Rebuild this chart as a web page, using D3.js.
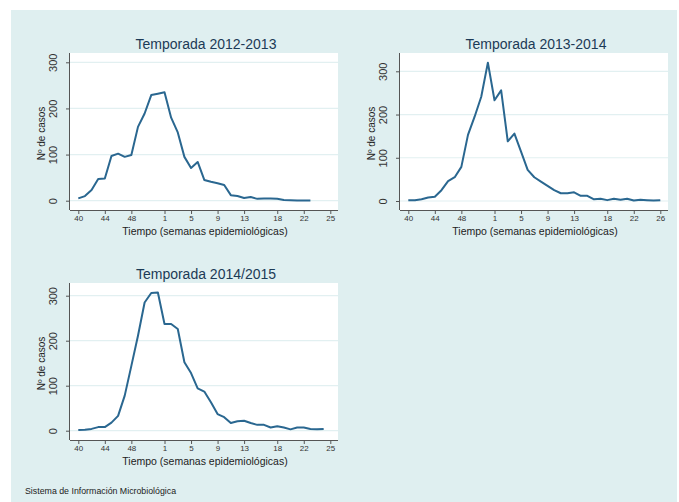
<!doctype html>
<html>
<head>
<meta charset="utf-8">
<script src="https://d3js.org/d3.v7.min.js"></script>
<style>
  body { margin: 0; background: #fff; }
  text { font-family: "Liberation Sans", Arial, sans-serif; }
</style>
</head>
<body>
<script>
// weekly cases, index 0 = week 40
var cases2012 = [5,10,23,47,48,97,102,95,99,160,189,229,232,235,180,148,95,71,84,45,41,38,34,12,10,6,8,4,5,5,4,1.5,1,0.5,0.5,0.5];
var cases2013 = [1.5,2,4,8,10,25,46,55,79,153,195,241,320,233,256,138,156,114,72,55,45,35,25,18,18,20,12,12,4,5,2,5,3,5,1,3,2,1,2];
var cases2014 = [1.5,2,4,8,8,18,33,78,144,211,285,306,307,237,237,226,152,128,94,87,63,37,30,17,21,22,17,13,13,7,10,7,3,7,7,4,3,4];

var tickPos = [0,4,8,13,17,21,25,30,34,38];
var tickLabelsA = ["40","44","48","1","5","9","13","18","22","25"];
var tickLabelsB = ["40","44","48","1","5","9","13","18","22","26"];
var yTicks = [0,100,200,300];

var titles = ["Temporada 2012-2013", "Temporada 2013-2014", "Temporada 2014/2015"];

var W = 679, H = 502;
var svg = d3.select("body").append("svg").attr("width", W).attr("height", H);

svg.append("rect").attr("x", 11).attr("y", 10).attr("width", 666).attr("height", 492)
    .attr("fill", "#dfeff0");

var panels = [
    {data: cases2012, labels: tickLabelsA, title: titles[0], left: 70, right: 338, top: 53, bottom: 210, x0: 78.3, x1: 330.3, y0: 200.7, y300: 62.3},
    {data: cases2013, labels: tickLabelsB, title: titles[1], left: 400, right: 668, top: 53, bottom: 210, x0: 408.3, x1: 660.3, y0: 201, y300: 71.3},
    {data: cases2014, labels: tickLabelsA, title: titles[2], left: 70, right: 338, top: 283, bottom: 440, x0: 78.3, x1: 330.3, y0: 430.7, y300: 295.7}
];

panels.forEach(function(p) {
    var g = svg.append("g");
    var x = d3.scaleLinear().domain([0, 38]).range([p.x0, p.x1]);
    var y = d3.scaleLinear().domain([0, 300]).range([p.y0, p.y300]);

    g.append("rect")
        .attr("x", p.left).attr("y", p.top)
        .attr("width", p.right - p.left).attr("height", p.bottom - p.top)
        .attr("fill", "#ffffff");

    g.selectAll(".grid").data(yTicks).enter().append("line")
        .attr("x1", p.left).attr("x2", p.right)
        .attr("y1", function(d) { return y(d); })
        .attr("y2", function(d) { return y(d); })
        .attr("stroke", "#e2f0f1").attr("stroke-width", 1.2);

    var line = d3.line()
        .x(function(d, i) { return x(i); })
        .y(function(d) { return y(d); });

    g.append("path").datum(p.data)
        .attr("d", line)
        .attr("fill", "none")
        .attr("stroke", "#2a6790")
        .attr("stroke-width", 2)
        .attr("stroke-linejoin", "round");

    // x axis
    var xAxis = d3.axisBottom(x).tickValues(tickPos).tickSize(4).tickSizeOuter(0)
        .tickFormat(function(d, i) { return p.labels[i]; });
    var gx = g.append("g").attr("transform", "translate(0," + p.bottom + ")").call(xAxis);
    gx.select(".domain").attr("d", "M" + p.left + ",0.5H" + p.right).attr("stroke", "#555");
    gx.selectAll(".tick line").attr("stroke", "#555");
    gx.selectAll(".tick text").attr("font-size", 8).attr("fill", "#333").attr("dy", "0.55em")
        .style("font-family", "Liberation Sans, Arial, sans-serif");

    // y axis
    var yAxis = d3.axisLeft(y).tickValues(yTicks).tickSize(4).tickSizeOuter(0);
    var gy = g.append("g").attr("transform", "translate(" + p.left + ",0)").call(yAxis);
    gy.select(".domain").attr("d", "M-0.5," + p.top + "V" + p.bottom).attr("stroke", "#555");
    gy.selectAll(".tick line").attr("stroke", "#555");
    gy.selectAll(".tick text")
        .attr("x", null).attr("dy", null)
        .attr("text-anchor", "middle")
        .attr("transform", "translate(-13,0) rotate(-90)")
        .attr("font-size", 11).attr("fill", "#333")
        .style("font-family", "Liberation Sans, Arial, sans-serif");

    var cx = (p.left + p.right) / 2;
    g.append("text").attr("x", cx + 2).attr("y", p.top - 4)
        .attr("text-anchor", "middle").attr("font-size", 14).attr("fill", "#1c3a56")
        .text(p.title);

    g.append("text").attr("x", cx + 1).attr("y", p.bottom + 25)
        .attr("text-anchor", "middle").attr("font-size", 10.5).attr("fill", "#222")
        .text("Tiempo (semanas epidemiológicas)");

    g.append("text")
        .attr("transform", "translate(" + (p.left - 25) + "," + ((p.top + p.bottom) / 2 + 2) + ") rotate(-90)")
        .attr("text-anchor", "middle").attr("font-size", 10).attr("fill", "#222")
        .text("Nº de casos");
});

svg.append("text").attr("x", 25).attr("y", 494)
    .attr("font-size", 8.8).attr("fill", "#222")
    .text("Sistema de Información Microbiológica");
</script>
</body>
</html>
